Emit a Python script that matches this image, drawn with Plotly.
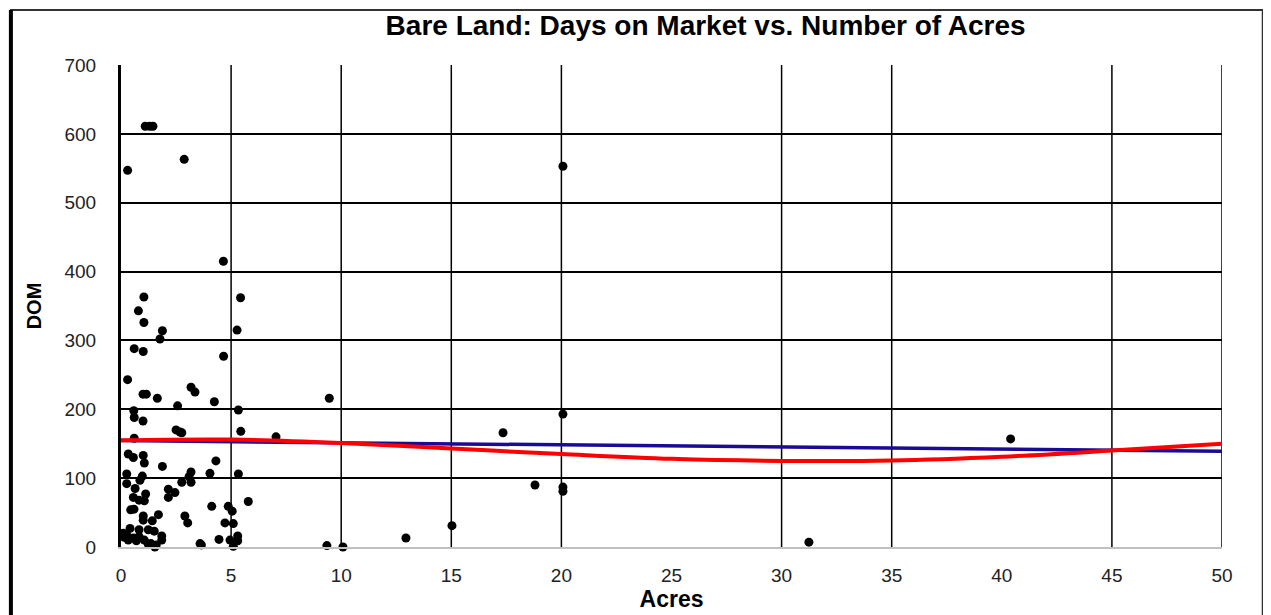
import plotly.graph_objects as go

# ---- data ----
acres = [
    1.10, 1.30, 1.45, 2.87, 0.30,
    4.65, 1.04, 5.43, 0.79, 1.04, 1.88, 5.27, 1.77,
    0.60, 1.01, 4.66, 0.30, 1.00, 1.15, 1.65, 3.18, 3.36, 2.57, 4.24,
    0.58, 0.60, 1.00, 5.33, 2.50, 2.76, 5.44, 0.60, 2.68,
    0.33, 0.56, 1.01, 1.06, 1.88, 4.31, 0.26, 0.97, 0.86, 3.18, 3.09,
    2.76, 3.18, 4.04, 5.33, 0.26, 0.64, 2.15, 2.45, 2.15, 0.56, 0.82,
    1.12, 1.06, 4.12, 4.87, 5.05, 5.78, 2.90, 3.03, 4.72, 5.10,
    0.44, 0.59, 1.01, 1.01, 1.42, 1.70, 0.41, 0.82, 1.24, 1.51, 0.26,
    0.33, 0.70, 0.82, 1.06, 1.36, 1.60, 1.54, 1.24, 1.85, 1.85, 0.56,
    0.10, 0.15, 3.59, 3.65, 4.45, 4.95, 5.30, 5.10, 5.30,
    7.04, 9.46, 9.35, 10.08, 12.94, 15.03, 17.35, 18.80, 20.07, 20.07,
    20.07, 20.07, 31.24, 40.40,
]
dom = [
    611, 611, 611, 563, 547,
    415, 363, 362, 343, 326, 314, 315, 302,
    288, 284, 277, 243, 222, 222, 216, 232, 225, 205, 211,
    198, 188, 183, 199, 170, 166, 168, 158, 167,
    135, 130, 133, 122, 117, 125, 106, 103, 97, 109, 102,
    94, 94, 107, 106, 92, 85, 84, 79, 72, 72, 68,
    77, 67, 59, 59, 52, 66, 45, 35, 35, 34,
    54, 55, 45, 39, 38, 47, 27, 25, 25, 23, 17,
    10, 9, 15, 10, 5, 3, 0, 4, 10, 16, 13,
    20, 14, 5, 3, 11, 10, 16, 1, 9,
    160, 216, 2, 0, 13, 31, 166, 90, 553, 193,
    87, 81, 7, 157,
]

# trend lines
lin_x = [0, 50]
lin_y = [154.5, 139.0]
poly_x = [0, 5, 10, 15, 20, 25, 30, 35, 40, 45, 50]
poly_y = [155, 156, 151, 143, 135, 128, 125, 125.5, 131, 140, 150]

x_ticks = [0, 5, 10, 15, 20, 25, 30, 35, 40, 45, 50]
y_ticks = [0, 100, 200, 300, 400, 500, 600, 700]
x_grid = [5, 10, 15, 20, 30, 35, 45, 50]

FONT = "Liberation Sans, Arial, sans-serif"

fig = go.Figure()
fig.add_trace(go.Scatter(
    x=acres, y=dom, mode="markers",
    marker=dict(color="black", size=9, line=dict(width=0)),
    showlegend=False, cliponaxis=False,
))
fig.add_trace(go.Scatter(
    x=lin_x, y=lin_y, mode="lines",
    line=dict(color="#1a0a96", width=3.5), showlegend=False,
))
fig.add_trace(go.Scatter(
    x=poly_x, y=poly_y, mode="lines",
    line=dict(color="#ff0000", width=4, shape="spline"), showlegend=False,
))

shapes = []
for gx in x_grid:
    shapes.append(dict(type="line", xref="x", yref="paper", x0=gx, x1=gx,
                       y0=0, y1=1, line=dict(color="black", width=1.5),
                       layer="below"))
# outer chart border
shapes.append(dict(type="rect", xref="paper", yref="paper",
                   x0=-0.100, x1=1.037, y0=-0.2, y1=1.114,
                   line=dict(color="#333333", width=2), layer="below"))
shapes.append(dict(type="line", xref="paper", yref="paper",
                   x0=-0.100, x1=-0.100, y0=-0.2, y1=1.114,
                   line=dict(color="black", width=4), layer="below"))

fig.update_layout(
    width=1271, height=615,
    margin=dict(l=113, r=57, t=57, b=76),
    paper_bgcolor="white", plot_bgcolor="white",
    font=dict(family=FONT, color="black"),
    title=dict(text="<b>Bare Land: Days on Market vs. Number of Acres</b>",
               x=0.531, xref="paper", xanchor="center",
               y=0.972, yanchor="middle",
               font=dict(family=FONT, size=28, color="black")),
    xaxis=dict(range=[0, 50], tickvals=x_ticks, showgrid=False,
               zeroline=False, showline=True, linecolor="#c0c0c0",
               linewidth=2, ticks="", ticklen=0, ticklabelstandoff=10,
               tickfont=dict(family=FONT, size=19, color="#222222"),
               title=dict(text="<b>Acres</b>", standoff=2,
                          font=dict(family=FONT, size=23, color="black"))),
    yaxis=dict(range=[0, 700], tickvals=y_ticks, showgrid=True,
               gridcolor="black", gridwidth=1.5, zeroline=False,
               showline=True, linecolor="black", linewidth=3,
               ticks="", ticklen=0, ticklabelstandoff=18,
               tickfont=dict(family=FONT, size=19, color="#222222"),
               title=dict(text="<b>DOM</b>", standoff=18,
                          font=dict(family=FONT, size=20, color="black"))),
    shapes=shapes,
)

fig.write_html("out.html")
